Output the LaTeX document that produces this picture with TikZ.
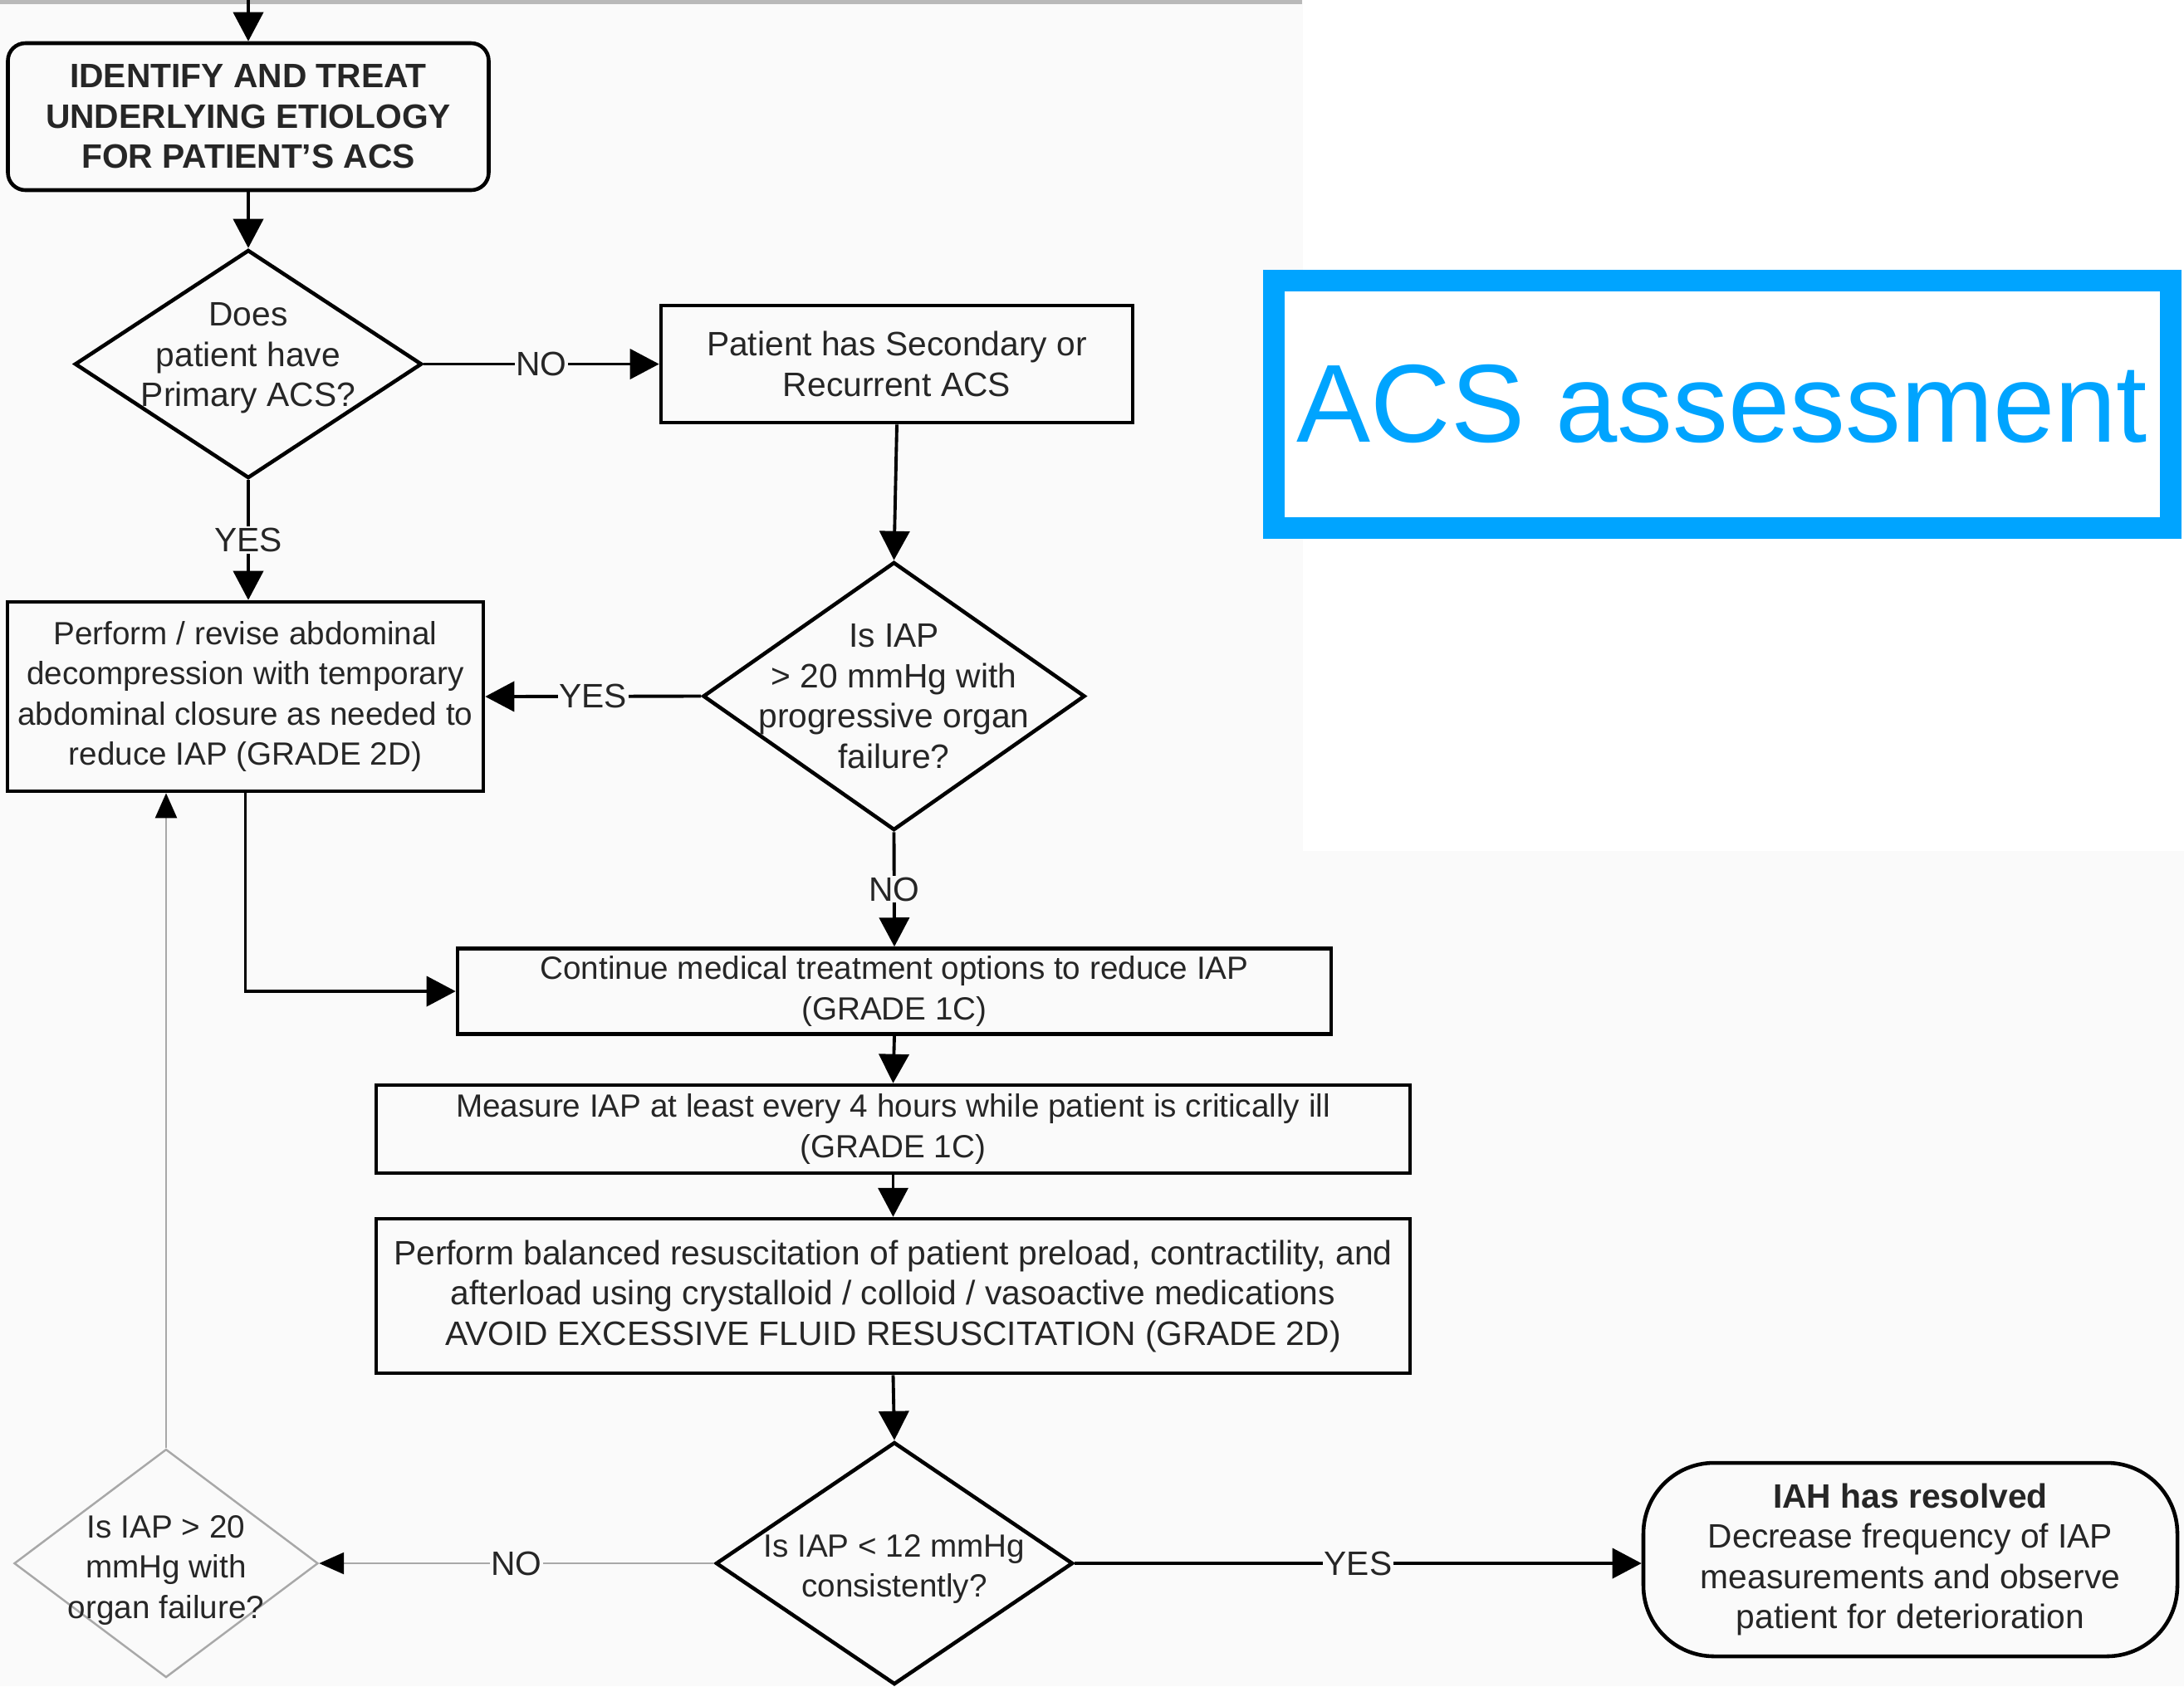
\documentclass[tikz,border=0pt]{standalone}
\usepackage{fontspec}
\setmainfont{Liberation Sans}
\usepackage{tikz}
\usetikzlibrary{shapes.geometric, arrows.meta, positioning, calc}

\definecolor{paper}{HTML}{FAFAFA}
\definecolor{ink}{HTML}{262626}
\definecolor{faint}{HTML}{A8A8A8}
\definecolor{acsblue}{HTML}{00A4FF}

\begin{document}
\begin{tikzpicture}[
    txt/.style={font=\fontsize{11.6}{13.8}\selectfont, text=ink, align=center},
    narrow/.style={font=\fontsize{11}{13.8}\selectfont},
    box/.style={draw, line width=1.3pt, txt, inner sep=2pt},
    decision/.style={diamond, draw, line width=1.3pt, inner sep=0pt},
    dtext/.style={txt, inner sep=0pt},
    flow/.style={line width=1.1pt, -{Triangle[length=0.35cm,width=0.36cm]}},
    back/.style={faint, line width=0.7pt, -{Triangle[length=0.3cm,width=0.26cm,color=black]}},
    lab/.style={txt, fill=paper, inner sep=0.5pt}
  ]

  % ---------- fundo ----------
  \useasboundingbox (0,0) rectangle (26.3,-20.31);
  \fill[paper] (0,0) rectangle (26.3,-20.31);
  \fill[white] (15.69,0) rectangle (26.3,-10.25);
  \fill[gray!55] (0,0) rectangle (15.68,-0.05);

  % ---------- caixas e decisoes ----------
  \coordinate (entry) at (2.99,0);
  \node[box, rounded corners=6pt, minimum width=5.79cm, minimum height=1.77cm,
        font=\fontsize{11.6}{13.8}\selectfont\bfseries] (ident) at (2.99,-1.405)
        {IDENTIFY AND TREAT\\UNDERLYING ETIOLOGY\\FOR PATIENT'S ACS};
  \node[decision, minimum width=4.18cm, minimum height=2.75cm,
        label={[dtext, yshift=0.07cm]center:{Does\\patient have\\Primary ACS?}}] (d1) at (2.99,-4.385) {};
  \node[box, minimum width=5.68cm, minimum height=1.41cm] (second) at (10.80,-4.385)
        {Patient has Secondary or\\Recurrent ACS};
  \node[decision, minimum width=4.60cm, minimum height=3.23cm,
        label={[dtext]center:{Is IAP\\> 20 mmHg with\\progressive organ\\failure?}}] (d2) at (10.765,-8.385) {};
  \node[box, narrow, minimum width=5.73cm, minimum height=2.28cm] (decomp) at (2.955,-8.39)
        {Perform / revise abdominal\\decompression with temporary\\abdominal closure as needed to\\reduce IAP (GRADE 2D)};
  \node[box, narrow, minimum width=10.52cm, minimum height=1.03cm] (cont) at (10.77,-11.94)
        {Continue medical treatment options to reduce IAP\\(GRADE 1C)};
  \node[box, narrow, minimum width=12.45cm, minimum height=1.06cm] (measure) at (10.755,-13.60)
        {Measure IAP at least every 4 hours while patient is critically ill\\(GRADE 1C)};
  \node[box, minimum width=12.45cm, minimum height=1.86cm] (resus) at (10.755,-15.61)
        {Perform balanced resuscitation of patient preload, contractility, and\\afterload using crystalloid / colloid / vasoactive medications\\AVOID EXCESSIVE FLUID RESUSCITATION (GRADE 2D)};
  \node[decision, minimum width=4.30cm, minimum height=2.92cm,
        label={[dtext, narrow, yshift=-0.07cm]center:{Is IAP < 12 mmHg\\consistently?}}] (d3) at (10.77,-18.83) {};
  \node[box, rounded corners=0.85cm, minimum width=6.43cm, minimum height=2.33cm] (resolved) at (23.005,-18.785)
        {\textbf{IAH has resolved}\\Decrease frequency of IAP\\measurements and observe\\patient for deterioration};
  \node[decision, draw=faint, line width=0.7pt, minimum width=3.66cm, minimum height=2.75cm,
        label={[dtext, narrow, yshift=-0.08cm]center:{Is IAP > 20\\mmHg with\\organ failure?}}] (d4) at (2.00,-18.83) {};

  % ---------- setas ----------
  \draw[flow] (entry) -- (ident.north);
  \draw[flow] (ident.south) -- (d1.north);
  \draw[flow] (d1.east) -- node[lab] {NO} (second.west);
  \draw[flow] (d1.south) -- node[lab] {YES} (d1.south |- decomp.north);
  \draw[flow] (second.south) -- (d2.north);
  \draw[flow] (d2.west) -- node[lab] {YES} (decomp.east);
  \draw[flow] (d2.south) -- node[lab] {NO} (cont.north);
  \draw[flow] (decomp.south) |- (cont.west);
  \draw[flow] (cont.south) -- (measure.north);
  \draw[flow] (measure.south) -- (resus.north);
  \draw[flow] (resus.south) -- (d3.north);
  \draw[flow] (d3.east) -- node[lab] {YES} (d3.east -| resolved.west);
  \draw[back] (d3.west) -- node[lab] {NO} (d4.east);
  \draw[back] (d4.north) -- (d4.north |- decomp.south);

  % ---------- titulo ----------
  \node[draw=acsblue, line width=0.26cm, fill=white, minimum width=10.795cm, minimum height=2.985cm,
        text=acsblue, font=\fontsize{38}{41}\selectfont] (title) at (20.74,-4.87) {ACS assessment};

\end{tikzpicture}
\end{document}
